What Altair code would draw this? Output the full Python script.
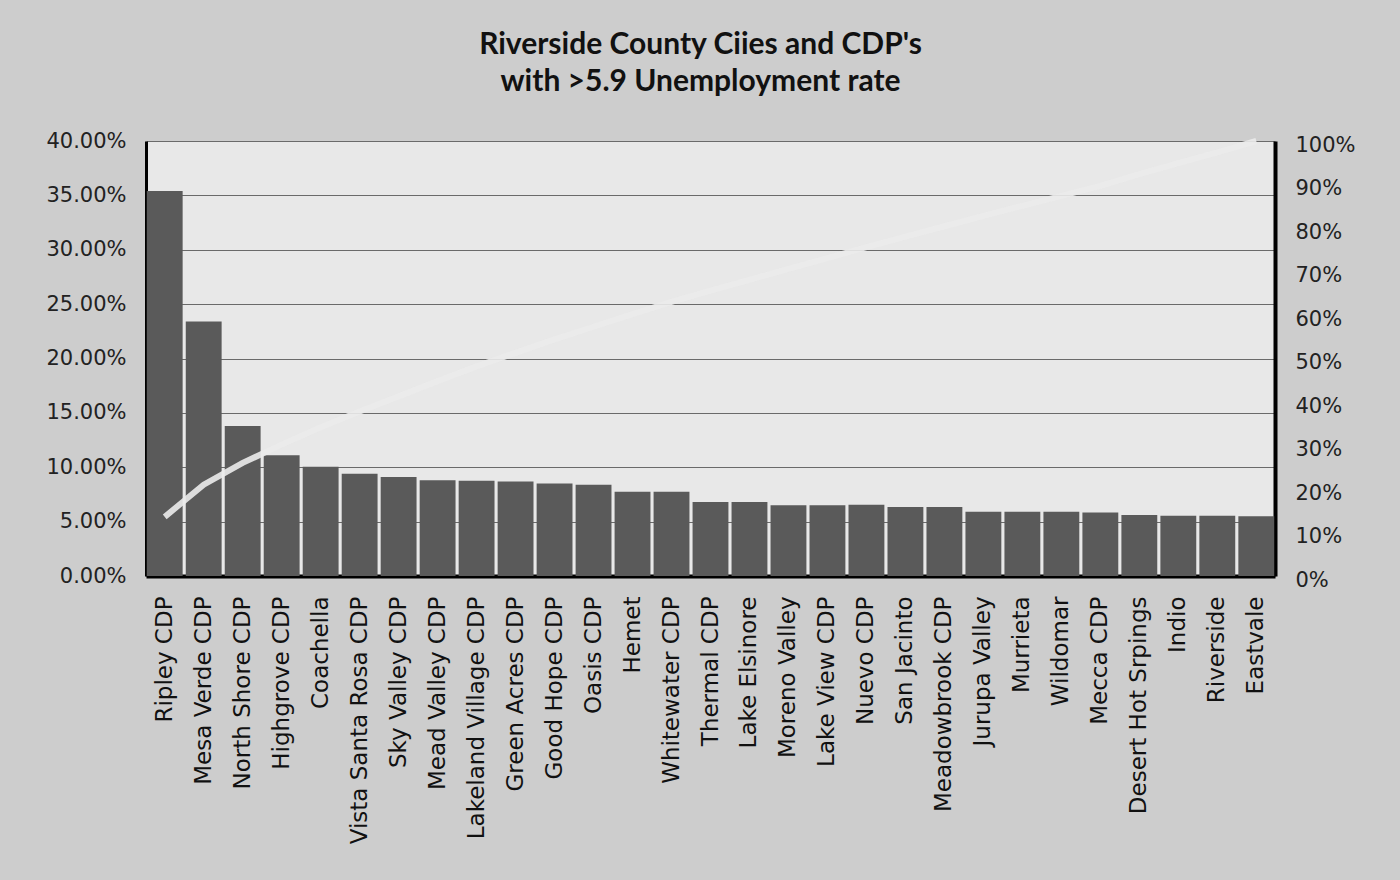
import altair as alt
import pandas as pd

cities = [
    "Ripley CDP", "Mesa Verde CDP", "North Shore CDP", "Highgrove CDP", "Coachella",
    "Vista Santa Rosa CDP", "Sky Valley CDP", "Mead Valley CDP", "Lakeland Village CDP",
    "Green Acres CDP", "Good Hope CDP", "Oasis CDP", "Hemet", "Whitewater CDP",
    "Thermal CDP", "Lake Elsinore", "Moreno Valley", "Lake View CDP", "Nuevo CDP",
    "San Jacinto", "Meadowbrook CDP", "Jurupa Valley", "Murrieta", "Wildomar",
    "Mecca CDP", "Desert Hot Srpings", "Indio", "Riverside", "Eastvale",
]

# unemployment rate (left axis)
rates = [
    0.354, 0.234, 0.138, 0.111, 0.1005, 0.094, 0.091, 0.088, 0.0875,
    0.087, 0.085, 0.084, 0.0775, 0.0775, 0.068, 0.068, 0.065, 0.065, 0.0655,
    0.0635, 0.0635, 0.059, 0.059, 0.059, 0.0585, 0.056, 0.0555, 0.0555, 0.055,
]

# cumulative share (right axis)
cumulative = [
    0.136, 0.21, 0.26, 0.302, 0.342, 0.378, 0.413, 0.448, 0.482,
    0.513, 0.544, 0.573, 0.602, 0.630, 0.656, 0.681, 0.706, 0.731, 0.756,
    0.780, 0.804, 0.828, 0.851, 0.874, 0.897, 0.924, 0.949, 0.974, 1.0,
]

title_lines = ["Riverside County Ciies and CDP's", "with >5.9 Unemployment rate"]

df = pd.DataFrame({"city": cities, "rate": rates, "cum": cumulative})

x_enc = alt.X(
    "city:N",
    sort=cities,
    scale=alt.Scale(paddingInner=0.08, paddingOuter=0.02),
    axis=alt.Axis(
        title=None, labelAngle=-90, labelAlign="right", labelBaseline="middle",
        labelFont="DejaVu Sans", labelFontSize=23, labelColor="#111111",
        labelPadding=20, labelLimit=0, ticks=False, domainColor="#000000", domainWidth=4,
    ),
)

bars = alt.Chart(df).mark_bar(color="#5a5a5a").encode(
    x=x_enc,
    y=alt.Y(
        "rate:Q",
        scale=alt.Scale(domain=[0, 0.40], nice=False),
        axis=alt.Axis(
            title=None, format=".2%", values=[i * 0.05 for i in range(9)],
            labelFont="DejaVu Sans", labelFontSize=21, labelColor="#222222",
            labelPadding=20, ticks=False, domainColor="#000000", domainWidth=3,
            grid=True, gridColor="#4a4a4a", gridWidth=1.2, gridOpacity=0.8,
        ),
    ),
)

line = alt.Chart(df).mark_line(color="#ebebeb", strokeWidth=6, opacity=0.9).encode(
    x=alt.X("city:N", sort=cities),
    y=alt.Y(
        "cum:Q",
        scale=alt.Scale(domain=[0, 1.0], nice=False),
        axis=alt.Axis(
            title=None, orient="right", format=".0%", values=[i * 0.1 for i in range(11)],
            labelFont="DejaVu Sans", labelFontSize=21, labelColor="#222222",
            labelPadding=20, labelOffset=4, ticks=False, domainColor="#000000",
            domainWidth=4, grid=False,
        ),
    ),
)

chart = (
    alt.layer(bars, line)
    .resolve_scale(y="independent")
    .properties(
        width=1129,
        height=435,
        autosize=alt.AutoSizeParams(type="none"),
        padding={"left": 146, "top": 141, "right": 125, "bottom": 304},
        background="#cdcdcd",
        title=alt.TitleParams(
            text=title_lines, anchor="middle", font="Lato", fontSize=30,
            fontWeight="bold", color="#111111", lineHeight=37, offset=32, dx=-10,
        ),
    )
    .configure_view(stroke=None, fill="#e8e8e8")
)

chart.save("out.html", embed_options={"renderer": "svg", "actions": False})
